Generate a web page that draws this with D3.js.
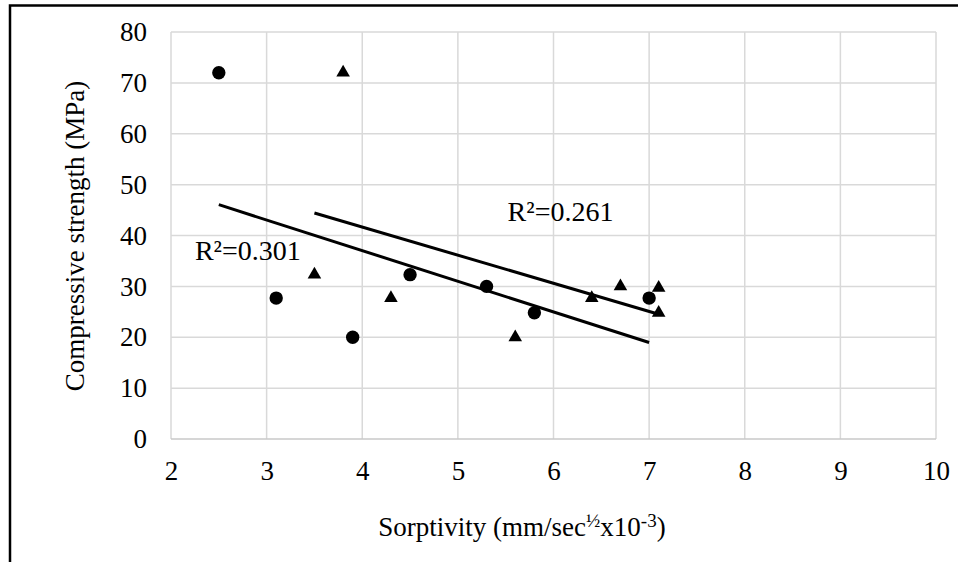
<!DOCTYPE html>
<html>
<head>
<meta charset="utf-8">
<script src="https://cdn.jsdelivr.net/npm/d3@7"></script>
<style>
  body { margin: 0; background: #fff; }
  svg text { font-family: "Liberation Serif", "DejaVu Serif", "Times New Roman", serif; fill: #000; }
</style>
</head>
<body>
<div id="chart"></div>
<script>
// series 1 (circles) and series 2 (triangles)
const sorptivityA = [2.5, 3.1, 3.9, 4.5, 5.3, 5.8, 7.0];
const strengthA = [72, 27.7, 20, 32.3, 30, 24.8, 27.7];
const sorptivityB = [3.5, 3.8, 4.3, 5.6, 6.4, 6.7, 7.1, 7.1];
const strengthB = [32.3, 72, 27.7, 20, 27.7, 30, 29.7, 24.8];
const xTicks = [2, 3, 4, 5, 6, 7, 8, 9, 10];
const yTicks = [0, 10, 20, 30, 40, 50, 60, 70, 80];
const r2Labels = ["R²=0.301", "R²=0.261"];

const serif = "'Liberation Serif', 'DejaVu Serif', 'Times New Roman', serif";
const W = 958, H = 562;
const margin = {top: 32, right: 22, bottom: 123, left: 171},
    width = 936 - margin.left,
    height = 439 - margin.top;

const svg = d3.select("#chart").append("svg")
    .attr("width", W)
    .attr("height", H)
    .style("font-family", serif);

// outer frame (runs off the right and bottom edges)
svg.append("rect")
    .attr("x", 10).attr("y", 5.5)
    .attr("width", 1000).attr("height", 600)
    .attr("fill", "none")
    .attr("stroke", "#000")
    .attr("stroke-width", 2.5);

const g = svg.append("g")
    .attr("transform", "translate(" + margin.left + "," + margin.top + ")");

const x = d3.scaleLinear().domain([2, 10]).range([0, width]);
const y = d3.scaleLinear().domain([0, 80]).range([height, 0]);

// grid
g.selectAll(".gx").data(xTicks).enter().append("line")
    .attr("x1", d => x(d)).attr("x2", d => x(d))
    .attr("y1", 0).attr("y2", height)
    .attr("stroke", "#d9d9d9").attr("stroke-width", 1.5);
g.selectAll(".gy").data(yTicks).enter().append("line")
    .attr("x1", 0).attr("x2", width)
    .attr("y1", d => y(d)).attr("y2", d => y(d))
    .attr("stroke", d => d === 0 ? "#c8c8c8" : "#d9d9d9").attr("stroke-width", 1.5);

// axes (labels only)
const xAxis = g.append("g")
    .attr("transform", "translate(0," + height + ")")
    .call(d3.axisBottom(x).tickValues(xTicks).tickSize(0).tickPadding(22).tickFormat(d3.format("d")));
const yAxis = g.append("g")
    .call(d3.axisLeft(y).tickValues(yTicks).tickSize(0).tickPadding(24).tickFormat(d3.format("d")));
[xAxis, yAxis].forEach(a => {
    a.attr("font-family", null).attr("font-size", null);
    a.select(".domain").remove();
    a.selectAll("text")
        .style("font-family", serif)
        .style("font-size", "27px")
        .attr("fill", "#000");
});

// axis titles
const xt = svg.append("text")
    .attr("x", 522).attr("y", 536)
    .attr("text-anchor", "middle")
    .style("font-size", "27px");
xt.append("tspan").text("Sorptivity (mm/sec");
xt.append("tspan").text("½").style("font-size", "19px").attr("dy", -9);
xt.append("tspan").text("x10").attr("dy", 9);
xt.append("tspan").text("-3").style("font-size", "19px").attr("dy", -9);
xt.append("tspan").text(")").attr("dy", 9);

svg.append("text")
    .attr("transform", "translate(84,236) rotate(-90)")
    .attr("text-anchor", "middle")
    .style("font-size", "27px")
    .text("Compressive strength (MPa)");

// linear trend lines (least squares)
function fit(xs, ys) {
    const mx = d3.mean(xs), my = d3.mean(ys);
    let sxy = 0, sxx = 0;
    xs.forEach((v, i) => { sxy += (v - mx) * (ys[i] - my); sxx += (v - mx) * (v - mx); });
    const b = sxy / sxx, a = my - b * mx;
    const x0 = d3.min(xs), x1 = d3.max(xs);
    return [[x0, a + b * x0], [x1, a + b * x1]];
}
const line = d3.line().x(d => x(d[0])).y(d => y(d[1]));
[fit(sorptivityA, strengthA), fit(sorptivityB, strengthB)].forEach(seg => {
    g.append("path")
        .attr("d", line(seg))
        .attr("fill", "none")
        .attr("stroke", "#000")
        .attr("stroke-width", 3);
});

// points
const ptsA = sorptivityA.map((v, i) => [v, strengthA[i]]);
const ptsB = sorptivityB.map((v, i) => [v, strengthB[i]]);
g.selectAll(".ca").data(ptsA).enter().append("path")
    .attr("d", d3.symbol(d3.symbolCircle, 140))
    .attr("transform", d => "translate(" + x(d[0]) + "," + y(d[1]) + ")")
    .attr("fill", "#000");
g.selectAll(".tb").data(ptsB).enter().append("path")
    .attr("d", d3.symbol(d3.symbolTriangle, 80))
    .attr("transform", d => "translate(" + x(d[0]) + "," + y(d[1]) + ")")
    .attr("fill", "#000");

// R² labels
g.append("text")
    .attr("x", x(2.25)).attr("y", y(35.2))
    .style("font-size", "28px")
    .text(r2Labels[0]);
g.append("text")
    .attr("x", x(5.52)).attr("y", y(42.8))
    .style("font-size", "28px")
    .text(r2Labels[1]);
</script>
</body>
</html>
